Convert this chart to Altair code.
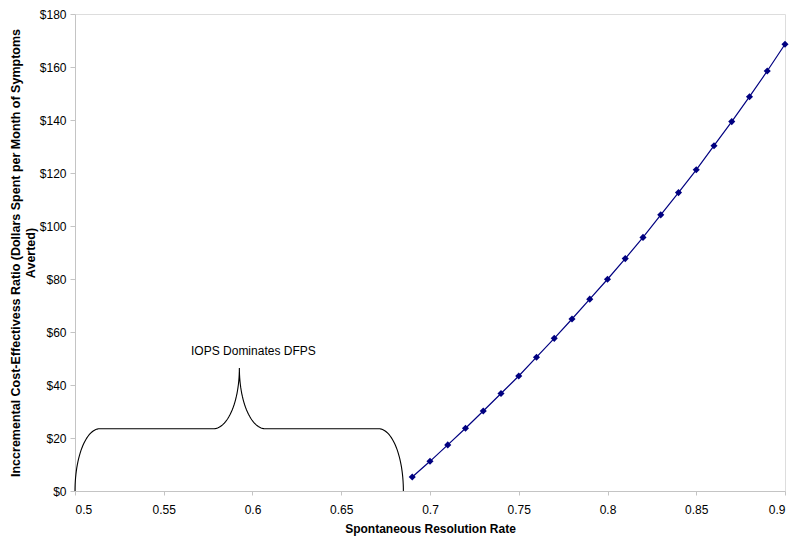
import altair as alt
import pandas as pd
import numpy as np

# Series data
rates = [0.69, 0.70, 0.71, 0.72, 0.73, 0.74, 0.75, 0.76, 0.77, 0.78, 0.79,
         0.80, 0.81, 0.82, 0.83, 0.84, 0.85, 0.86, 0.87, 0.88, 0.89, 0.90]
icer = [5.3, 11.2, 17.4, 23.7, 30.2, 36.8, 43.4, 50.5, 57.6, 64.9, 72.4,
        79.9, 87.7, 95.7, 104.2, 112.6, 121.2, 130.3, 139.4, 148.8, 158.5, 168.6]

x_ticks = [0.5, 0.55, 0.6, 0.65, 0.7, 0.75, 0.8, 0.85, 0.9]
y_ticks = [0, 20, 40, 60, 80, 100, 120, 140, 160, 180]

# Brace annotation parameters (start, end, arm height, cusp position/height, corner radius)
brace_start = 0.5
brace_end = 0.685
brace_arm = 23.5
brace_cusp_x = 0.5926
brace_cusp_y = 46.4
brace_corner = 0.014
brace_cusp_w = 0.0146
annotation_text = "IOPS Dominates DFPS"
annotation_x = 0.6005
annotation_y = 52.8

# Build brace curve from the parameters
t = np.linspace(0, np.pi / 2, 30)
seg1_x = brace_start + brace_corner - brace_corner * np.cos(t)
seg1_y = brace_arm * np.sin(t)
seg2_x = brace_cusp_x - brace_cusp_w + brace_cusp_w * np.sin(t)
seg2_y = brace_cusp_y - (brace_cusp_y - brace_arm) * np.cos(t)
seg3_x = (brace_cusp_x + brace_cusp_w - brace_cusp_w * np.sin(t))[::-1]
seg3_y = (brace_cusp_y - (brace_cusp_y - brace_arm) * np.cos(t))[::-1]
seg4_x = (brace_end - brace_corner + brace_corner * np.cos(t))[::-1]
seg4_y = (brace_arm * np.sin(t))[::-1]
bx = np.concatenate([seg1_x, seg2_x, seg3_x, seg4_x])
by = np.concatenate([seg1_y, seg2_y, seg3_y, seg4_y])
brace_df = pd.DataFrame({"x": bx, "y": by, "o": np.arange(len(bx))})

df = pd.DataFrame({"rate": rates, "icer": icer})
ann_df = pd.DataFrame({"x": [annotation_x], "y": [annotation_y], "label": [annotation_text]})

xscale = alt.Scale(domain=[0.5, 0.9], nice=False, zero=False)
yscale = alt.Scale(domain=[0, 180], nice=False)

xaxis = alt.Axis(values=x_ticks, format=".2~f", title="Spontaneous Resolution Rate",
                 grid=False, labelFontSize=12, titleFontSize=12, titleFontWeight="bold",
                 labelColor="#000000", titleColor="#000000", domainColor="#c4c4c4",
                 tickColor="#c4c4c4", tickSize=4, labelPadding=9, titlePadding=8,
                 labelFont="Liberation Sans", titleFont="Liberation Sans")
yaxis = alt.Axis(values=y_ticks, format="$,.0f",
                 title=["Inccremental Cost-Effectivess Ratio (Dollars Spent per Month of Symptoms",
                        "Averted)"],
                 grid=False, labelFontSize=12, titleFontSize=12.5, titleFontWeight="bold",
                 labelColor="#000000", titleColor="#000000", domainColor="#c4c4c4",
                 tickColor="#c4c4c4", tickSize=5, labelPadding=4, titlePadding=2,
                 titleLineHeight=15,
                 labelFont="Liberation Sans", titleFont="Liberation Sans")

line = alt.Chart(df).mark_line(color="#000080", strokeWidth=1.2).encode(
    x=alt.X("rate:Q", scale=xscale, axis=xaxis),
    y=alt.Y("icer:Q", scale=yscale, axis=yaxis),
)
pts = alt.Chart(df).mark_point(shape="diamond", filled=True, color="#000080",
                               size=50, opacity=1).encode(
    x=alt.X("rate:Q", scale=xscale),
    y=alt.Y("icer:Q", scale=yscale),
)
brace = alt.Chart(brace_df).mark_line(color="#000000", strokeWidth=1.1).encode(
    x=alt.X("x:Q", scale=xscale),
    y=alt.Y("y:Q", scale=yscale),
    order="o:Q",
)
ann = alt.Chart(ann_df).mark_text(font="Liberation Sans", fontSize=12, color="#000000",
                                  baseline="middle", align="center").encode(
    x=alt.X("x:Q", scale=xscale),
    y=alt.Y("y:Q", scale=yscale),
    text="label:N",
)

chart = alt.layer(brace, line, pts, ann).properties(
    width=710, height=477,
    autosize=alt.AutoSizeParams(type="none"),
    padding={"left": 67, "top": 6, "right": 7, "bottom": 50},
).configure_view(stroke=None).configure(background="#ffffff")

chart.save("out.html", embed_options={"renderer": "svg", "actions": False})
